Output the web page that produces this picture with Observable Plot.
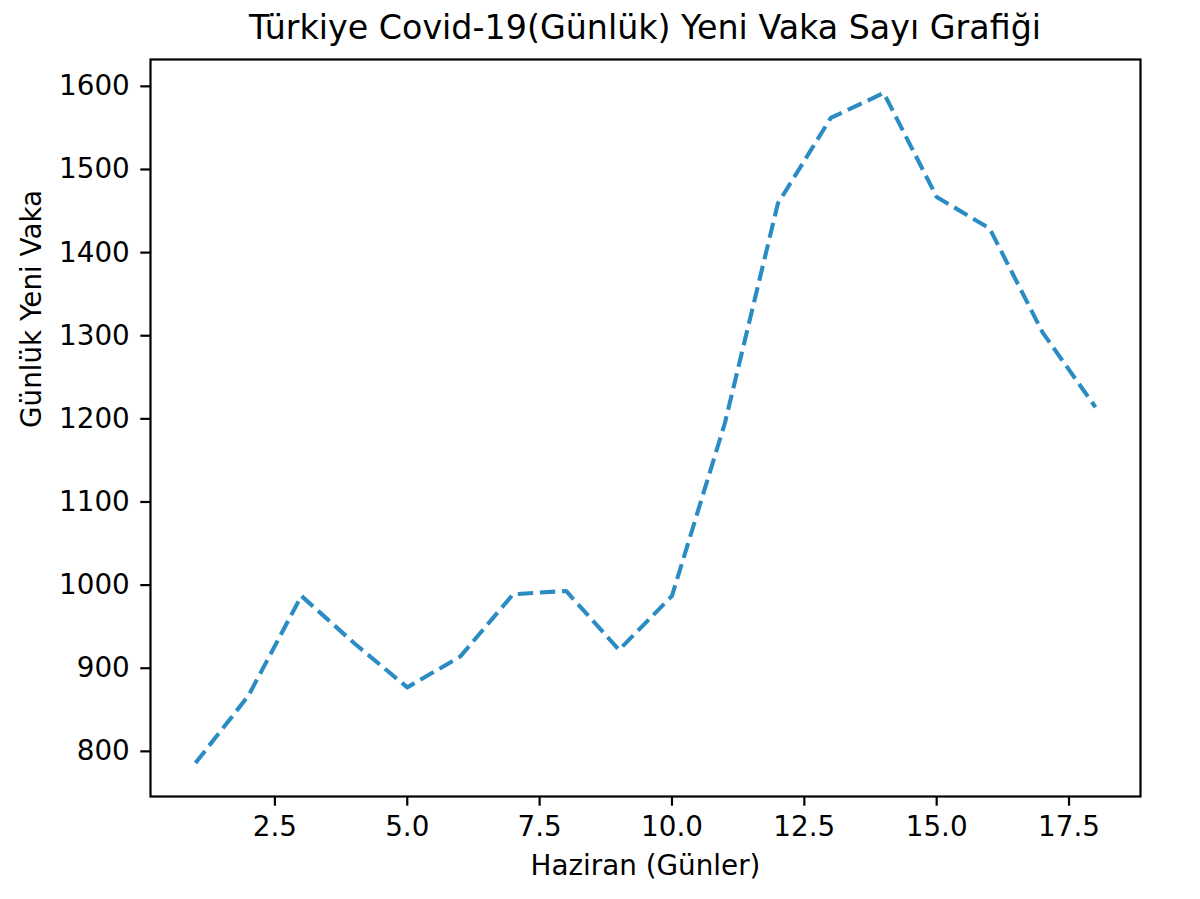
<!DOCTYPE html>
<html>
<head>
<meta charset="utf-8">
<script src="https://cdn.jsdelivr.net/npm/d3@7"></script>
<script src="https://cdn.jsdelivr.net/npm/@observablehq/plot@0.6"></script>
<style>
  html, body { margin: 0; padding: 0; background: #fff; }
  #wrap { position: relative; width: 1200px; height: 899px; font-family: "DejaVu Sans", sans-serif; }
  #title { position: absolute; left: 150px; width: 990px; top: 8px; line-height: 40px; font-size: 33.3px; text-align: center; color: #000; white-space: nowrap; }
  #chart { position: absolute; left: 0; top: 58px; }
</style>
</head>
<body>
<div id="wrap">
  <div id="title">Türkiye Covid-19(Günlük) Yeni Vaka Sayı Grafiği</div>
  <div id="chart"></div>
</div>
<script>
const days = [1,2,3,4,5,6,7,8,9,10,11,12,13,14,15,16,17,18];
const cases = [786,867,987,930,877,914,989,993,922,987,1195,1459,1562,1592,1467,1429,1304,1214];
const xTicks = [2.5,5,7.5,10,12.5,15,17.5];
const yTicks = [800,900,1000,1100,1200,1300,1400,1500,1600];
const xLabel = "Haziran (Günler)";
const yLabel = "Günlük Yeni Vaka";

const data = days.map((d, i) => ({day: d, value: cases[i]}));

const FS = 27.8;
const chart = Plot.plot({
  width: 1200,
  height: 841,
  marginLeft: 150,
  marginRight: 60,
  marginTop: 1,
  marginBottom: 103,
  style: {fontFamily: "DejaVu Sans, sans-serif", fontSize: FS + "px", color: "#000", background: "#fff"},
  x: {domain: [0.15, 18.85], ticks: xTicks},
  y: {domain: [745.7, 1632.3], ticks: yTicks},
  marks: [
    Plot.line(data, {x: "day", y: "value", stroke: "#2b8cc4", strokeWidth: 4.1, strokeDasharray: "15.4,6.7", strokeLinecap: "butt"}),
    Plot.frame({stroke: "#000", strokeWidth: 2.2}),
    Plot.axisX(xTicks, {tickSize: 9.7, tickPadding: 10, strokeWidth: 2.2, tickFormat: d => d.toFixed(1), label: null, fontSize: FS}),
    Plot.axisY(yTicks, {tickSize: 9.7, tickPadding: 11, strokeWidth: 2.2, tickFormat: d => String(d), label: null, fontSize: FS}),
    Plot.text([xLabel], {text: d => d, frameAnchor: "bottom", dy: 78, fontSize: FS, fill: "#000"}),
    Plot.text([yLabel], {text: d => d, frameAnchor: "left", dx: -118, rotate: -90, fontSize: FS, fill: "#000"})
  ]
});
document.getElementById("chart").appendChild(chart);
</script>
</body>
</html>
